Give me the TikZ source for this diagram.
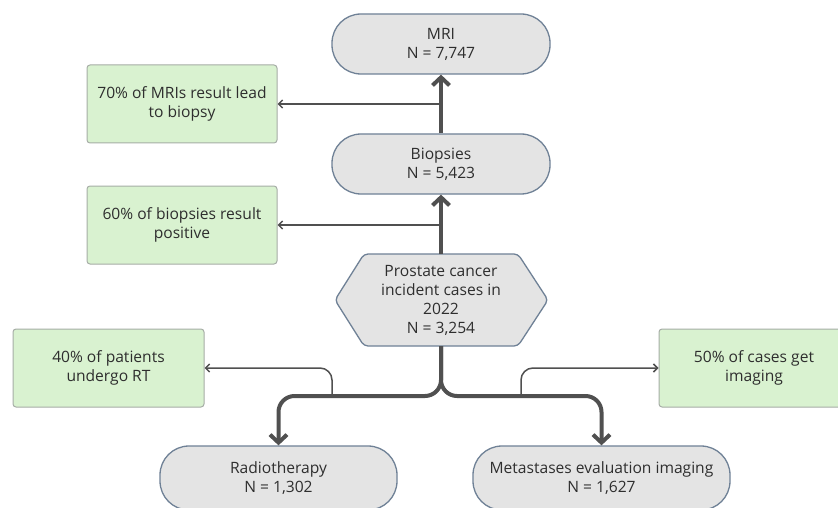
\documentclass[tikz,border=0pt]{standalone}
\usepackage{fontspec}
\setmainfont{Open Sans}
\usetikzlibrary{arrows.meta}
\definecolor{linec}{HTML}{505050}
\definecolor{greyfill}{HTML}{E4E4E4}
\definecolor{greyedge}{HTML}{6F8196}
\definecolor{greenfill}{HTML}{D9F2D0}
\definecolor{greenedge}{HTML}{A6ADA6}
\definecolor{txt}{HTML}{2E2E2E}
\tikzset{
  pill/.style={draw=greyedge, fill=greyfill, line width=1.3pt, rounded corners=29pt,
    minimum width=218pt, minimum height=60pt, align=center, text=txt,
    font=\fontsize{15.6}{19}\selectfont, inner sep=0pt},
  notebox/.style={draw=greenedge, fill=greenfill, line width=1pt, rounded corners=3pt,
    minimum width=190pt, minimum height=78pt, align=center, text=txt,
    font=\fontsize{15.6}{19}\selectfont, inner sep=0pt},
  hextext/.style={minimum width=213pt, minimum height=92pt, align=center, text=txt,
    font=\fontsize{15.6}{19}\selectfont, inner sep=0pt},
  bigarrow/.style={draw=linec, line width=4pt, -{Straight Barb[length=8pt,width=17pt]}},
  smallarrow/.style={draw=linec, line width=1.5pt, -{Straight Barb[length=4pt,width=8pt]}},
}
\begin{document}
\begin{tikzpicture}[x=1pt,y=-1pt]
\clip (0,0) rectangle (838,508);
\fill[white] (0,0) rectangle (838,508);

% main nodes
\node[pill] (mri) at (441,44) {MRI\\N = 7,747};
\node[pill] (bio) at (441,164) {Biopsies\\N = 5,423};
\draw[draw=greyedge, fill=greyfill, line width=1.3pt, rounded corners=4pt]
  (335,300) -- (364,254) -- (518,254) -- (548,300) -- (518,346) -- (364,346) -- cycle;
\node[hextext] (hex) at (441,300) {Prostate cancer\\incident cases in\\2022\\N = 3,254};
\node[pill, minimum width=237pt, minimum height=64pt] (rt) at (278.5,478) {Radiotherapy\\N = 1,302};
\node[pill, minimum width=257pt, minimum height=64pt] (met) at (601.5,478) {Metastases evaluation imaging\\N = 1,627};

% note boxes
\node[notebox] (n1) at (182,104) {70\% of MRIs result lead\\to biopsy};
\node[notebox] (n2) at (182,225) {60\% of biopsies result\\positive};
\node[notebox, minimum width=191pt] (n3) at (108.5,368) {40\% of patients\\undergo RT};
\node[notebox] (n4) at (754,368) {50\% of cases get\\imaging};

% connectors
\draw[bigarrow] (bio.north) -- (mri.south);
\coordinate (j1) at (441,104);
\draw[smallarrow] (j1) -- (n1.east);

\draw[bigarrow] (hex.north) -- (bio.south);
\coordinate (j2) at (441,225);
\draw[smallarrow] (j2) -- (n2.east);

\coordinate (split) at (441,396);
\draw[bigarrow, rounded corners=16pt] (hex.south) -- (split) -| (rt.north);
\draw[bigarrow, rounded corners=16pt] (hex.south) -- (split) -| (met.north);

\coordinate (j3) at (332,396);
\coordinate (j4) at (521,396);
\draw[smallarrow, rounded corners=12pt] (j3) |- (n3.east);
\draw[smallarrow, rounded corners=12pt] (j4) |- (n4.west);
\end{tikzpicture}
\end{document}
